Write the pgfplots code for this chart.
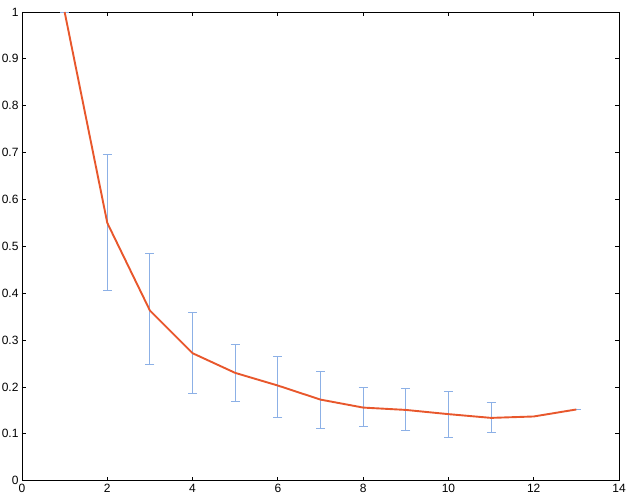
\documentclass[border=0pt]{standalone}
\usepackage{pgfplots}
\pgfplotsset{compat=1.18}
\usepackage{fontspec}
\setmainfont{Liberation Sans}
\definecolor{lineor}{HTML}{E8572C}
\definecolor{errblue}{HTML}{8CB0E6}
\begin{document}
\begin{tikzpicture}
\begin{axis}[
  scale only axis,
  width=597pt, height=468.7pt,
  xmin=0, xmax=14, ymin=0, ymax=1,
  xtick={0,2,...,14},
  ytick={0,0.1,...,1},
  yticklabel style={/pgf/number format/fixed},
  /pgf/number format/assume math mode=true,
  tick label style={font=\fontsize{12}{14}\selectfont},
  tick align=inside,
  major tick length=4pt,
  axis line style={line width=0.9pt},
  tick style={line width=0.8pt, black},
  clip=false,
]
\addplot[draw=none, forget plot,
  error bars/.cd, y dir=both, y explicit,
  error bar style={errblue, line width=0.9pt},
  error mark options={errblue, line width=0.9pt, mark size=4.5pt, rotate=90}]
  table[x=x, y=y, y error plus=ep, y error minus=em] {
x y ep em
1 1.000 0.000 0.000
2 0.550 0.145 0.145
3 0.363 0.121 0.116
4 0.272 0.086 0.085
5 0.230 0.060 0.060
6 0.203 0.063 0.067
7 0.173 0.061 0.061
8 0.156 0.044 0.041
9 0.151 0.045 0.043
10 0.142 0.049 0.049
11 0.134 0.034 0.032
12 0.137 0.000 0.000
13 0.152 0.000 0.000
};
\addplot[lineor, line width=1.9pt] table[x=x, y=y] {
x y
1 1.000
2 0.550
3 0.363
4 0.272
5 0.230
6 0.203
7 0.173
8 0.156
9 0.151
10 0.142
11 0.134
12 0.137
13 0.152
};
\end{axis}
\pgfresetboundingbox
\useasboundingbox (-22pt,-16pt) rectangle (607pt,480.7pt);
\end{tikzpicture}
\end{document}
